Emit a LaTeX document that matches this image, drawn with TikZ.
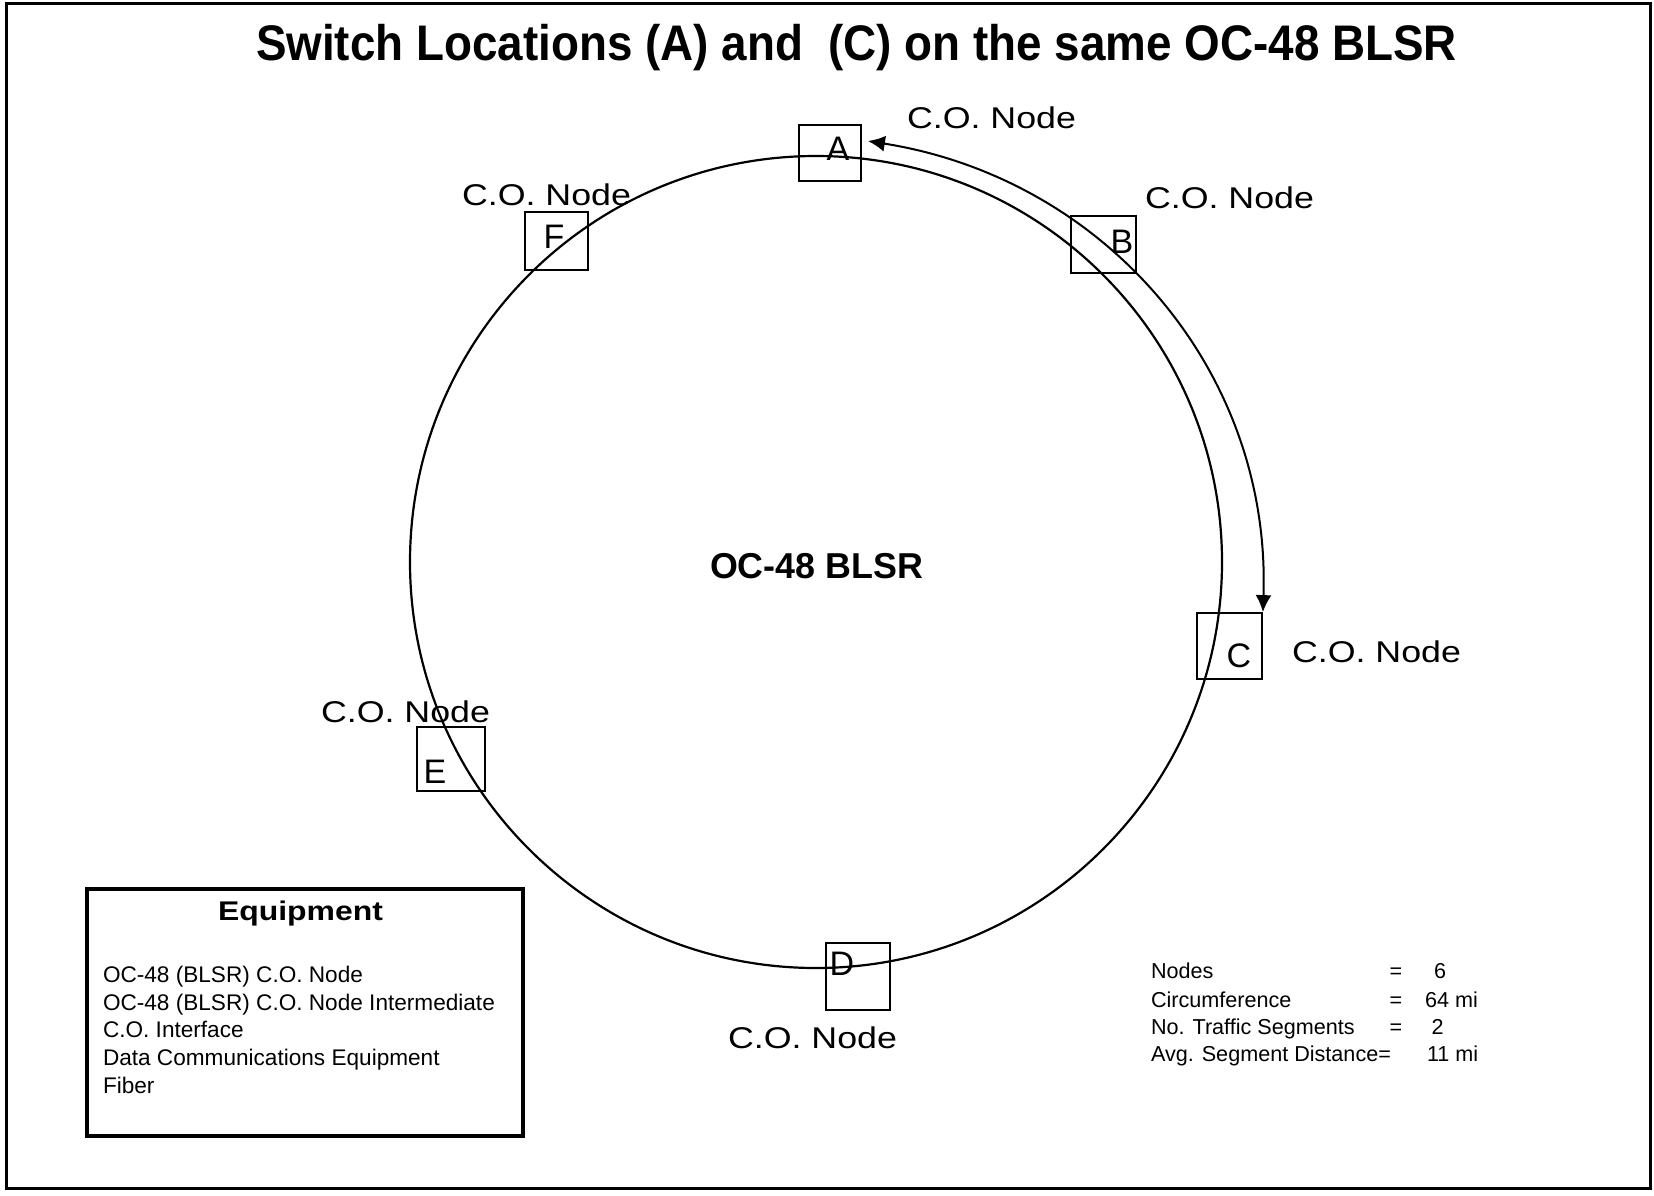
\documentclass[tikz,border=0pt]{standalone}
\usepackage{fontspec}
\setmainfont{Liberation Sans}
\usetikzlibrary{arrows.meta}
\newcommand\fitw[2]{\resizebox{#1}{\height}{#2}}
\begin{document}
\begin{tikzpicture}[x=0.5pt,y=0.5pt,
  txt/.style={inner sep=0pt, outer sep=0pt},
  conode/.style={txt, anchor=base west, font=\fontsize{15}{18}\selectfont},
  sqbox/.style={draw, line width=0.9pt, inner sep=0pt},
  letter/.style={txt, anchor=base, font=\fontsize{17}{20}\selectfont},
  equip/.style={txt, anchor=base west, font=\fontsize{11.3}{13}\selectfont},
  stat/.style={txt, font=\fontsize{10.8}{13}\selectfont},
  link/.style={line width=1pt, {Latex[length=8.5pt,width=8pt]}-{Latex[length=8.5pt,width=8pt]}},
]
\useasboundingbox (0,0) rectangle (1654,-1195);
\draw[line width=1.5pt] (6,-3) rectangle (1650,-1188);

% title
\node[txt, anchor=base west, font=\fontsize{25}{30}\selectfont\bfseries] (title) at (256,-60)
  {\fitw{600.5pt}{Switch Locations (A) and\ \ (C) on the same OC-48 BLSR}};

% ring
\node[draw, circle, line width=1.1pt, minimum size=406pt, inner sep=0pt] (ring) at (816,-562) {};
\node[txt, anchor=base west, font=\fontsize{18}{22}\selectfont\bfseries] (ringlabel) at (710,-578)
  {\fitw{106.5pt}{OC-48 BLSR}};

% node boxes
\node[sqbox, minimum width=31pt,   minimum height=28pt]   (A) at (830,-153) {};
\node[sqbox, minimum width=32.5pt, minimum height=28.5pt] (B) at (1103.5,-244.5) {};
\node[sqbox, minimum width=32.5pt, minimum height=33pt]   (C) at (1229.5,-646) {};
\node[sqbox, minimum width=32pt,   minimum height=33.5pt] (D) at (858,-976.5) {};
\node[sqbox, minimum width=34pt,   minimum height=32pt]   (E) at (451,-759) {};
\node[sqbox, minimum width=31.5pt, minimum height=29pt]   (F) at (556.5,-241) {};

\node[letter] (lA) at (838,-160) {A};
\node[letter] (lB) at (1122,-253) {B};
\node[letter] (lC) at (1239,-667) {C};
\node[letter] (lD) at (842,-975) {D};
\node[letter] (lE) at (435,-783) {E};
\node[letter] (lF) at (554,-248) {F};

% C.O. Node labels
\node[conode] (tA) at (907,-128)  {\fitw{84.5pt}{C.O. Node}};
\node[conode] (tB) at (1145,-208) {\fitw{84.5pt}{C.O. Node}};
\node[conode] (tC) at (1292,-662) {\fitw{84.5pt}{C.O. Node}};
\node[conode] (tD) at (728,-1048) {\fitw{84.5pt}{C.O. Node}};
\node[conode] (tE) at (321,-722)  {\fitw{84.5pt}{C.O. Node}};
\node[conode] (tF) at (462,-205)  {\fitw{84.5pt}{C.O. Node}};

% traffic arrow
\draw[link] (C.north east) to[out=88, in=-9] ([shift={(3pt,6pt)}]A.east);

% equipment legend
\node[draw, line width=2pt, minimum width=218pt, minimum height=123.5pt, inner sep=0pt] (equipbox) at (305,-1012.5) {};
\node[txt, anchor=base west, font=\fontsize{13.5}{16}\selectfont\bfseries] (eqtitle) at (218,-920)
  {\fitw{82.5pt}{Equipment}};
\node[equip] (eq1) at (103,-982)  {OC-48 (BLSR) C.O. Node};
\node[equip] (eq2) at (103,-1010) {OC-48 (BLSR) C.O. Node Intermediate};
\node[equip] (eq3) at (103,-1037) {C.O. Interface};
\node[equip] (eq4) at (103,-1065) {Data Communications Equipment};
\node[equip] (eq5) at (103,-1093) {Fiber};

% statistics
\node[stat, anchor=base west] (s1) at (1151,-978)  {Nodes};
\node[stat, anchor=base west] (s2) at (1151,-1007) {Circumference};
\node[stat, anchor=base west] (s3) at (1151,-1034) {No. Traffic Segments};
\node[stat, anchor=base west] (s4) at (1151,-1061) {Avg. Segment Distance=};
\node[stat, anchor=base] (e1) at (1396,-978)  {=};
\node[stat, anchor=base] (e2) at (1396,-1007) {=};
\node[stat, anchor=base] (e3) at (1396,-1034) {=};
\node[stat, anchor=base] (v1) at (1440,-978)  {6};
\node[stat, anchor=base west] (v2) at (1425,-1007) {64 mi};
\node[stat, anchor=base] (v3) at (1437.5,-1034) {2};
\node[stat, anchor=base west] (v4) at (1427,-1061) {11 mi};
\end{tikzpicture}
\end{document}
